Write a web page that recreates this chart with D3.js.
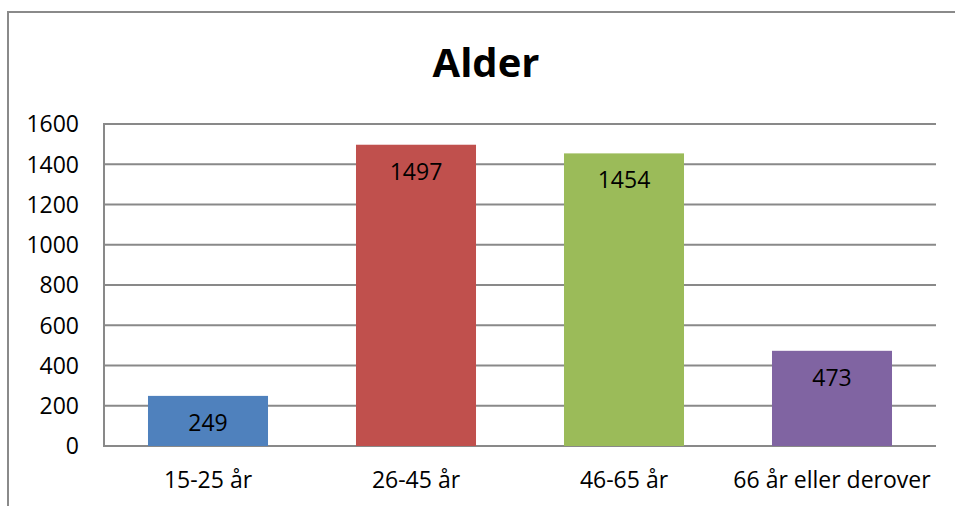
<!DOCTYPE html>
<html>
<head>
<meta charset="utf-8">
<script src="https://cdn.jsdelivr.net/npm/d3@7"></script>
<style>
  body { margin: 0; background: #fff; }
  text { font-family: "Open Sans", sans-serif; fill: #000; }
</style>
</head>
<body>
<svg width="955" height="506"></svg>
<script>
// data
const categories = ['15-25 år', '26-45 år', '46-65 år', '66 år eller derover'];
const values = [249, 1497, 1454, 473];
const colors = ['#4f81bd', '#c0504d', '#9bbb59', '#8064a2'];
const yTicks = [0, 200, 400, 600, 800, 1000, 1200, 1400, 1600];
const title = 'Alder';

const svg = d3.select('svg');

// outer frame (runs off the right and bottom edges)
svg.append('path')
    .attr('d', 'M8,520 L8,12 L970,12')
    .attr('fill', 'none')
    .attr('stroke', '#8a8a8a')
    .attr('stroke-width', 2);

const plot = { left: 104, right: 936, top: 124, bottom: 446 };

const x = d3.scaleBand()
    .domain(categories)
    .range([plot.left, plot.right])
    .paddingInner(0.423)
    .paddingOuter(0.2115);

const y = d3.scaleLinear()
    .domain([0, 1600])
    .range([plot.bottom, plot.top]);

// gridlines
svg.append('g')
    .selectAll('line')
    .data(yTicks)
    .enter()
    .append('line')
    .attr('x1', plot.left)
    .attr('x2', plot.right)
    .attr('y1', d => y(d))
    .attr('y2', d => y(d))
    .attr('stroke', '#898989')
    .attr('stroke-width', 2);

// y axis line
svg.append('line')
    .attr('x1', plot.left).attr('x2', plot.left)
    .attr('y1', plot.top - 1).attr('y2', plot.bottom + 1)
    .attr('stroke', '#898989')
    .attr('stroke-width', 2);

// y tick labels
svg.append('g')
    .selectAll('text')
    .data(yTicks)
    .enter()
    .append('text')
    .attr('x', 79)
    .attr('y', d => y(d))
    .attr('dy', '0.36em')
    .attr('text-anchor', 'end')
    .style('font-size', '23px')
    .text(d => d);

// bars
svg.append('g')
    .selectAll('rect')
    .data(values)
    .enter()
    .append('rect')
    .attr('x', (d, i) => x(categories[i]))
    .attr('width', x.bandwidth())
    .attr('y', d => y(d))
    .attr('height', d => plot.bottom - y(d))
    .attr('fill', (d, i) => colors[i]);

// value labels
svg.append('g')
    .selectAll('text')
    .data(values)
    .enter()
    .append('text')
    .attr('x', (d, i) => x(categories[i]) + x.bandwidth() / 2)
    .attr('y', d => y(d) + 35)
    .attr('text-anchor', 'middle')
    .style('font-size', '23px')
    .text(d => d);

// category labels
svg.append('g')
    .selectAll('text')
    .data(categories)
    .enter()
    .append('text')
    .attr('x', d => x(d) + x.bandwidth() / 2)
    .attr('y', 488)
    .attr('text-anchor', 'middle')
    .style('font-size', '23px')
    .text(d => d);

// title
svg.append('text')
    .attr('x', 486)
    .attr('y', 77)
    .attr('text-anchor', 'middle')
    .style('font-size', '40px')
    .style('font-weight', 'bold')
    .text(title);
</script>
</body>
</html>
